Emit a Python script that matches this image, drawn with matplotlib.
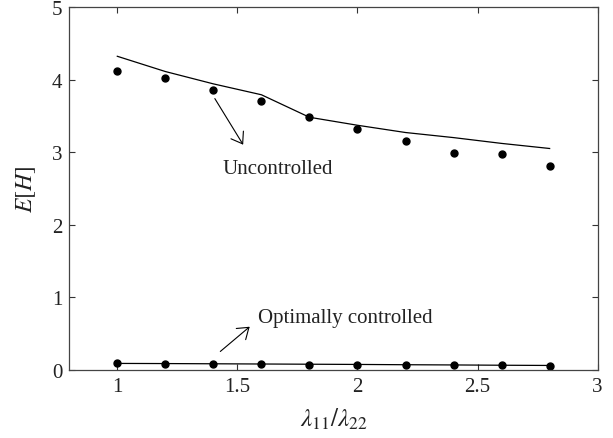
import numpy as np
import matplotlib.pyplot as plt

ratio = [1.0, 1.2, 1.4, 1.6, 1.8, 2.0, 2.2, 2.4, 2.6, 2.8]
unc_theory = [4.32, 4.11, 3.94, 3.79, 3.48, 3.37, 3.27, 3.20, 3.12, 3.05]
unc_sim = [4.12, 4.02, 3.86, 3.70, 3.49, 3.32, 3.15, 2.99, 2.97, 2.81]
opt_theory = [0.09, 0.088, 0.085, 0.082, 0.079, 0.076, 0.072, 0.069, 0.065, 0.062]
opt_sim = [0.09, 0.085, 0.085, 0.08, 0.075, 0.075, 0.07, 0.07, 0.065, 0.06]

plt.rcParams['font.family'] = ['Liberation Serif', 'DejaVu Serif']
plt.rcParams['mathtext.fontset'] = 'stix'
plt.rcParams['font.size'] = 15

fig, ax = plt.subplots(figsize=(6.13, 4.39), dpi=100)
fig.subplots_adjust(left=0.113, right=0.975, top=0.982, bottom=0.155)

ax.plot(ratio, unc_theory, color='k', linewidth=0.9)
ax.plot(ratio, unc_sim, linestyle='', marker='o', color='k', markersize=5)
ax.plot(ratio, opt_theory, color='k', linewidth=0.9)
ax.plot(ratio, opt_sim, linestyle='', marker='o', color='k', markersize=5)

ax.annotate('', xy=(1.53, 3.07), xytext=(1.40, 3.77),
            arrowprops=dict(arrowstyle='->,head_length=0.5,head_width=0.35',
                            color='k', linewidth=0.8))
ax.text(1.44, 2.78, 'Uncontrolled', va='center', ha='left', color='#222222')
ax.annotate('', xy=(1.56, 0.62), xytext=(1.42, 0.23),
            arrowprops=dict(arrowstyle='->,head_length=0.5,head_width=0.35',
                            color='k', linewidth=0.8))
ax.text(1.585, 0.72, 'Optimally controlled', va='center', ha='left', color='#222222')

ax.set_xlim(0.8, 3)
ax.set_ylim(0, 5)
ax.set_xticks([1, 1.5, 2, 2.5, 3])
ax.set_xticklabels(['1', '1.5', '2', '2.5', '3'])
ax.set_yticks([0, 1, 2, 3, 4, 5])
ax.tick_params(direction='in', top=True, right=True, length=4, width=0.8,
               colors='#333333', labelcolor='#222222', pad=5)
for s in ax.spines.values():
    s.set_color('#444444')
    s.set_linewidth(0.9)

ax.set_xlabel(r'$\lambda_{11}/\lambda_{22}$', fontsize=18, color='#222222', labelpad=7)
ax.set_ylabel(r'$E[H]$', fontsize=17, color='#222222', labelpad=10)

fig.savefig('out.png', dpi=100)
